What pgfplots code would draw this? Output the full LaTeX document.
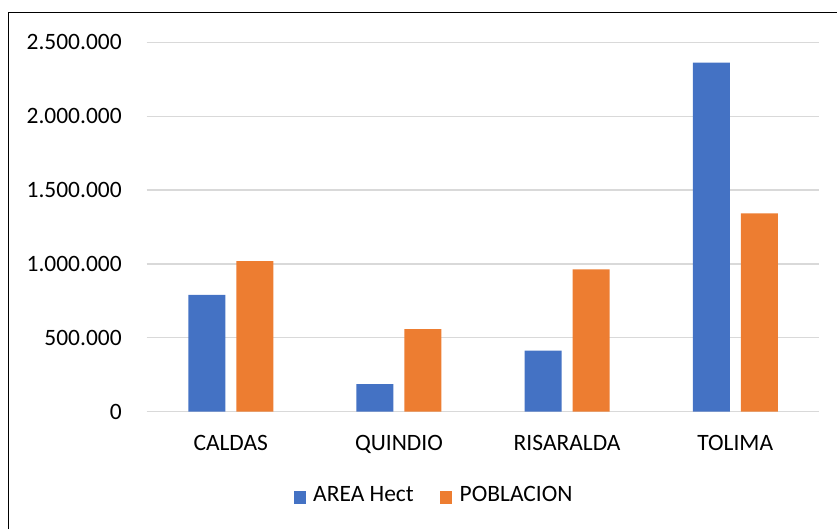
\documentclass[border=0pt]{standalone}
\usepackage{pgfplots}
\pgfplotsset{compat=1.18}
\usepackage{fontspec}
\setmainfont{Carlito}
\definecolor{serieA}{RGB}{68,114,196}
\definecolor{serieB}{RGB}{237,125,49}
\definecolor{rejilla}{RGB}{217,217,217}
\begin{document}
\fontsize{17.6pt}{21pt}\selectfont
\begin{tikzpicture}
\useasboundingbox (0,0) rectangle (627.75pt,396.75pt);
\draw[line width=1.1pt, black] (6.5pt,0) -- (6.5pt,387.2pt) -- (627.75pt,387.2pt);
\begin{axis}[
  at={(110.0pt,88.1pt)}, anchor=south west,
  scale only axis,
  width=504.5pt, height=276.9pt,
  ybar=8.25pt, bar width=27.75pt,
  xmin=-0.5, xmax=3.5,
  ymin=0, ymax=2500000,
  xtick={0,1,2,3},
  xticklabels={CALDAS,QUINDIO,RISARALDA,TOLIMA},
  ytick={0,500000,1000000,1500000,2000000,2500000},
  scaled y ticks=false,
  /pgf/number format/.cd, fixed, 1000 sep={.}, assume math mode=true, /pgfplots/.cd,
  axis line style={draw=none},
  major tick length=0pt,
  ymajorgrids,
  grid style={rejilla, line width=1pt},
  yticklabel style={anchor=east, inner sep=0pt, xshift=-18.5pt},
  xticklabel style={anchor=base, inner sep=0pt, yshift=-29.4pt},
  ticklabel style={font=\fontsize{17.6pt}{21pt}\selectfont},
  legend columns=2,
  legend style={draw=none, fill=none, at={(0.426,-0.229)}, anchor=center,
    font=\fontsize{17.6pt}{21pt}\selectfont,
    nodes={inner sep=0pt, anchor=base west},
    /tikz/every odd column/.style={column sep=5.5pt},
    /tikz/every even column/.style={column sep=20pt}},
  legend image code/.code={\fill[#1] (0pt,-1.2pt) rectangle (9pt,8.3pt);},
]
\addplot[fill=serieA, draw=none] coordinates {(0,790000) (1,185000) (2,412000) (3,2362000)};
\addplot[fill=serieB, draw=none] coordinates {(0,1019000) (1,558000) (2,962000) (3,1342000)};
\legend{AREA Hect, POBLACION}
\end{axis}
\end{tikzpicture}
\end{document}
